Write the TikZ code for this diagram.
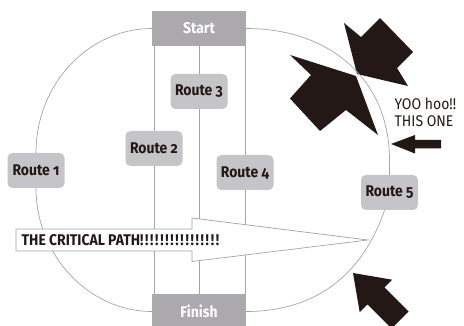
\documentclass[tikz,border=0pt]{standalone}
\usepackage{fontspec}
\setmainfont{Fira Sans}[Numbers=OldStyle, FakeStretch=0.9]
\usetikzlibrary{calc}
\definecolor{ink}{HTML}{231815}
\definecolor{boxgray}{HTML}{C5C4C9}
\definecolor{endgray}{HTML}{ABA9AE}
\definecolor{linegray}{HTML}{A4A4A4}
\newcommand\critbang{!\kern1.7pt}
\begin{document}
\begin{tikzpicture}[x=1pt,y=-1pt,
  lbl/.style={font=\fontsize{15.5}{17}\selectfont\bfseries},
  route/.style={lbl, fill=boxgray, rounded corners=5pt, minimum width=57pt, minimum height=35pt, inner sep=0pt, text=ink},
  endbox/.style={lbl, fill=endgray, minimum width=94pt, minimum height=35pt, inner sep=0pt, text=white},
  conn/.style={draw=linegray, line width=0.7pt},
  bigarrow/.style={fill=ink},
  note/.style={font=\fontsize{15.5}{17}\selectfont, text=ink, anchor=base west, inner sep=0pt}]
\useasboundingbox (0,0) rectangle (464,326);
\clip (0,0) rectangle (464,326);
% boxes
\node[endbox] (start) at (199,28.5) {Start};
\node[endbox] (finish) at (199,311.5) {Finish};
\node[route] (r1) at (36,170.5) {Route 1};
\node[route] (r2) at (154,148.5) {Route 2};
\node[route] (r3) at (199,91.5) {Route 3};
\node[route] (r4) at (245,172.5) {Route 4};
\node[route] (r5) at (389.5,192.5) {Route 5};
% straight routes
\draw[conn] (r2.north) -- (r2.north |- start.south);
\draw[conn] (r2.south) -- (r2.south |- finish.north);
\draw[conn] (r3.north) -- (r3.north |- start.south);
\draw[conn] (r3.south) -- (r3.south |- finish.north);
\draw[conn] (r4.north) -- (r4.north |- start.south);
\draw[conn] (r4.south) -- (r4.south |- finish.north);
% black arrows
\fill[bigarrow] (344,23) -- (361,37) -- (380,18) -- (413,52) -- (397,68) -- (408,86) -- (357,74) -- cycle;
\fill[bigarrow] (290,55) -- (356,76) -- (378,135) -- (346,110) -- (320,131) -- (290,98.5) -- (311,75) -- cycle;
\fill[bigarrow] (391,144) -- (415,135) -- (415,140) -- (441,140) -- (441,148.5) -- (415,148.5) -- (415,153.5) -- cycle;
\fill[bigarrow] (353,273) -- (392.2,279.7) -- (384.5,287.5) -- (408.5,311.5) -- (391.5,328.5) -- (367.5,304.5) -- (359.7,312.2) -- cycle;
% outer curved routes
\draw[conn] (start.west) .. controls +(-63,0) and +(0,-69) .. (r1.north);
\draw[conn] (r1.south) .. controls +(0,67) and +(-63,0) .. (finish.west);
\coordinate (r5top) at ($(r5.north)+(0,-15)$);
\draw[conn] (start.east) .. controls +(84,0) and +(0,-80) .. (r5top) -- (r5.north);
\coordinate (r5bot) at ($(r5.south)+(-5,0)$);
\draw[conn] (r5bot) .. controls +(-24,70) and +(64,0) .. (finish.east);
% critical path arrow
\draw[draw=linegray, fill=white, line width=0.7pt] (16,229) -- (192,229) -- (192,218) -- (368,240) -- (192,261.5) -- (192,251) -- (16,251) -- cycle;
\node[lbl, text=ink, anchor=base west, inner sep=0pt] (crit) at (21.5,246) {THE CRITICAL PATH\critbang\critbang\critbang\critbang\critbang\critbang\critbang\critbang\critbang\critbang\critbang\critbang\critbang\critbang\critbang!};
% notes
\node[note] (yoo) at (394.5,110) {YOO hoo!!};
\node[note] (this) at (394.5,126.5) {THIS ONE};
\end{tikzpicture}
\end{document}
